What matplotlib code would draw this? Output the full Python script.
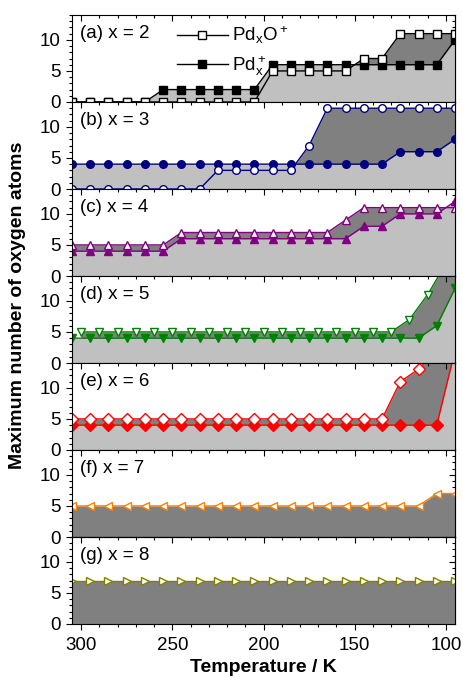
import matplotlib
matplotlib.use('Agg')
import matplotlib.pyplot as plt
from matplotlib.ticker import MultipleLocator
from matplotlib.lines import Line2D

plt.rcParams['font.family'] = ['Liberation Sans', 'DejaVu Sans']
plt.rcParams['mathtext.default'] = 'regular'

# temperatures (K) of the measurements
temps = [305, 295, 285, 275, 265, 255, 245, 235, 225, 215, 205,
         195, 185, 175, 165, 155, 145, 135, 125, 115, 105, 95]
# the oxide series of x = 5 was taken on a shifted grid
temps_shift = [300, 290, 280, 270, 260, 250, 240, 230, 220, 210, 200,
               190, 180, 170, 160, 150, 140, 130, 120, 110, 100, 90]

# max number of O atoms, PdxO+ (open) and Pdx+ (filled)
oxide_2 = [0, 0, 0, 0, 0, 0, 0, 0, 0, 0, 0, 5, 5, 5, 5, 5, 7, 7, 11, 11, 11, 11]
bare_2 = [0, 0, 0, 0, 0, 2, 2, 2, 2, 2, 2, 6, 6, 6, 6, 6, 6, 6, 6, 6, 6, 10]
oxide_3 = [0, 0, 0, 0, 0, 0, 0, 0, 3, 3, 3, 3, 3, 7, 13, 13, 13, 13, 13, 13, 13, 13]
bare_3 = [4, 4, 4, 4, 4, 4, 4, 4, 4, 4, 4, 4, 4, 4, 4, 4, 4, 4, 6, 6, 6, 8]
oxide_4 = [5, 5, 5, 5, 5, 5, 7, 7, 7, 7, 7, 7, 7, 7, 7, 9, 11, 11, 11, 11, 11, 11]
bare_4 = [4, 4, 4, 4, 4, 4, 6, 6, 6, 6, 6, 6, 6, 6, 6, 6, 8, 8, 10, 10, 10, 12]
oxide_5 = [5, 5, 5, 5, 5, 5, 5, 5, 5, 5, 5, 5, 5, 5, 5, 5, 5, 5, 7, 11, 16, 16]
bare_5 = [4, 4, 4, 4, 4, 4, 4, 4, 4, 4, 4, 4, 4, 4, 4, 4, 4, 4, 4, 4, 6, 12]
oxide_6 = [5, 5, 5, 5, 5, 5, 5, 5, 5, 5, 5, 5, 5, 5, 5, 5, 5, 5, 11, 13, 16, 16]
bare_6 = [4, 4, 4, 4, 4, 4, 4, 4, 4, 4, 4, 4, 4, 4, 4, 4, 4, 4, 4, 4, 4, 16]
oxide_7 = [5, 5, 5, 5, 5, 5, 5, 5, 5, 5, 5, 5, 5, 5, 5, 5, 5, 5, 5, 5, 7, 7]
oxide_8 = [7, 7, 7, 7, 7, 7, 7, 7, 7, 7, 7, 7, 7, 7, 7, 7, 7, 7, 7, 7, 7, 7]

sizes = [2, 3, 4, 5, 6, 7, 8]
letters = ['a', 'b', 'c', 'd', 'e', 'f', 'g']
colors = ['black', '#000080', '#800080', '#008000', '#FF0000', '#FF8000', '#808000']
markers = ['s', 'o', '^', 'v', 'D', '<', '>']

DARK = '#808080'
LIGHT = '#C0C0C0'

panels = [
    (temps, oxide_2, temps, bare_2),
    (temps, oxide_3, temps, bare_3),
    (temps, oxide_4, temps, bare_4),
    (temps_shift, oxide_5, temps, bare_5),
    (temps, oxide_6, temps, bare_6),
    (temps, oxide_7, None, None),
    (temps, oxide_8, None, None),
]


def ticks(ax, bottom_panel):
    ax.set_xlim(305, 95)
    ax.set_ylim(0, 14)
    ax.xaxis.set_major_locator(MultipleLocator(50))
    ax.xaxis.set_minor_locator(MultipleLocator(10))
    ax.yaxis.set_major_locator(MultipleLocator(5))
    ax.yaxis.set_minor_locator(MultipleLocator(1))
    ax.tick_params(axis='y', which='both', direction='out', left=True, right=False,
                   labelsize=13.5, pad=4)
    ax.tick_params(which='major', length=4, width=0.8)
    ax.tick_params(which='minor', length=2.5, width=0.8)
    sy = ax.secondary_yaxis('right')
    sy.yaxis.set_major_locator(MultipleLocator(5))
    sy.yaxis.set_minor_locator(MultipleLocator(1))
    sy.tick_params(which='both', direction='in', labelright=False)
    sy.tick_params(which='major', length=4, width=0.8)
    sy.tick_params(which='minor', length=2.5, width=0.8)
    if bottom_panel:
        ax.tick_params(axis='x', which='both', direction='out', bottom=True, top=False,
                       labelsize=13.5, pad=5)
        sx = ax.secondary_xaxis('top')
        sx.xaxis.set_major_locator(MultipleLocator(50))
        sx.xaxis.set_minor_locator(MultipleLocator(10))
        sx.tick_params(which='both', direction='in', labeltop=False)
        sx.tick_params(which='major', length=4, width=0.8)
        sx.tick_params(which='minor', length=2.5, width=0.8)
    else:
        ax.tick_params(axis='x', which='both', direction='in', bottom=False, top=True,
                       labelbottom=False)


fig, axes = plt.subplots(7, 1, figsize=(4.63, 6.78), dpi=100)
fig.subplots_adjust(left=72 / 463, right=455 / 463, top=1 - 15 / 678,
                    bottom=1 - 624 / 678, hspace=0)

for i, ax in enumerate(axes):
    t_ox, ox, t_b, b = panels[i]
    c = colors[i]
    m = markers[i]
    ms = 6 if m in ('D', '<', '>', '^', 'v') else 5.5
    ax.fill_between(t_ox, ox, 0, color=DARK, lw=0)
    if b is not None:
        ax.fill_between(t_b, b, 0, color=LIGHT, lw=0)
        ax.plot(t_b, b, color=c, lw=1, marker=m, ms=ms, mfc=c, mec=c)
    ax.plot(t_ox, ox, color=c, lw=1, marker=m, ms=ms, mfc='white', mec=c, mew=1)
    ax.text(0.022, 0.88, f'({letters[i]}) x = {sizes[i]}', transform=ax.transAxes,
            fontsize=13.5, va='top', ha='left')
    for s in ax.spines.values():
        s.set_linewidth(0.8)
    ticks(ax, i == 6)

h_ox = Line2D([], [], color='black', lw=1, marker='s', ms=5.5, mfc='white', mec='black')
h_b = Line2D([], [], color='black', lw=1, marker='s', ms=5.5, mfc='black', mec='black')
axes[0].legend([h_ox, h_b], ['Pd$_x$O$^+$', 'Pd$_x^+$'], loc='upper left',
               bbox_to_anchor=(0.24, 1.04), frameon=False, fontsize=13.5,
               handlelength=2.7, handletextpad=0.25, labelspacing=0.4, borderpad=0.2)

axes[6].set_xlabel('Temperature / K', fontsize=14, fontweight='bold', labelpad=4)
fig.text(18 / 463, 1 - 305 / 678, 'Maximum number of oxygen atoms', rotation=90,
         fontsize=14, fontweight='bold', ha='center', va='center')

fig.savefig('out.png', dpi=100)
